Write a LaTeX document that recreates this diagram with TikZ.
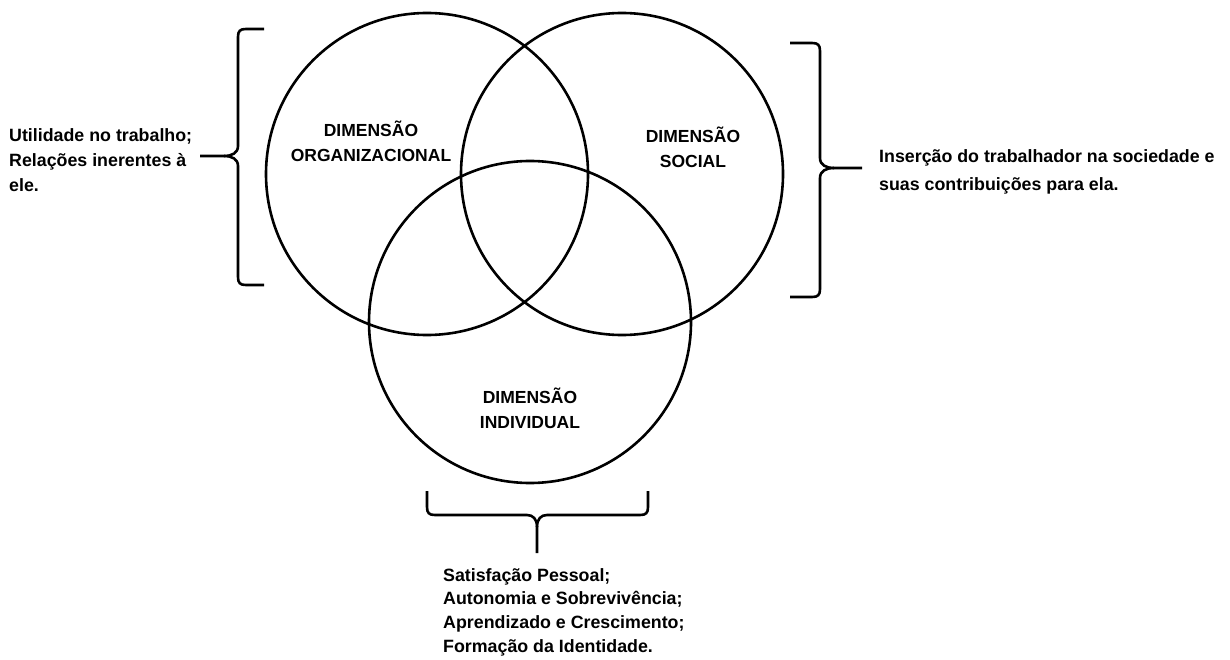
\documentclass[tikz,border=0pt]{standalone}
\usepackage{fontspec}
\setmainfont{Liberation Sans}
\begin{document}
\begin{tikzpicture}[x=1pt,y=-1pt,
  ring/.style={circle,draw,line width=2.6pt,minimum size=322pt,inner sep=0pt},
  bracket/.style={line width=2.6pt,line join=round},
  lab/.style={inner sep=0pt,font=\fontsize{17.5}{25}\selectfont\bfseries,align=center},
  note/.style={inner sep=0pt,font=\fontsize{17.8}{25}\selectfont\bfseries,align=left,anchor=west}]
\useasboundingbox (0,0) rectangle (1230,660);
% circles
\node[ring] (org) at (427,174) {};
\node[ring] (soc) at (622,174) {};
\node[ring] (ind) at (530,322) {};
% circle labels
\node[lab] (lorg) at (371,141) {DIMENSÃO\\ORGANIZACIONAL};
\node[lab] (lsoc) at (693,147) {DIMENSÃO\\SOCIAL};
\node[lab] (lind) at (530,408) {DIMENSÃO\\INDIVIDUAL};
% side texts
\node[note] (tleft) at (9,160) {Utilidade no trabalho;\\Relações inerentes à\\ele.};
\node[note,font=\fontsize{17.8}{28}\selectfont\bfseries] (tright) at (879,172) {Inserção do trabalhador na sociedade e\\suas contribuições para ela.};
\node[note,font=\fontsize{17.8}{23.7}\selectfont\bfseries] (tbot) at (443,612) {Satisfação Pessoal;\\Autonomia e Sobrevivência;\\Aprendizado e Crescimento;\\Formação da Identidade.};
% coordinates for brace tips
\coordinate (lt) at (200,156);
\coordinate (rt) at (862,168);
\coordinate (bt) at (537,553);
% left brace
\draw[bracket] (264,29) -- (246,29) .. controls (240,29) and (238,31) .. (238,37)
  -- (238,146) .. controls (238,153) and (232,156) .. (224,156) -- (lt);
\draw[bracket] (224,156) .. controls (232,156) and (238,159) .. (238,166)
  -- (238,277) .. controls (238,283) and (240,285) .. (246,285) -- (264,285);
% right brace
\draw[bracket] (790,43) -- (812,43) .. controls (818,43) and (820,45) .. (820,51)
  -- (820,158) .. controls (820,165) and (826,168) .. (834,168) -- (rt);
\draw[bracket] (834,168) .. controls (826,168) and (820,171) .. (820,178)
  -- (820,289) .. controls (820,295) and (818,297) .. (812,297) -- (790,297);
% bottom brace
\draw[bracket] (427,491) -- (427,507) .. controls (427,513) and (429,515) .. (435,515)
  -- (527,515) .. controls (533,515) and (537,519) .. (537,527) -- (bt);
\draw[bracket] (537,527) .. controls (537,519) and (541,515) .. (547,515)
  -- (640,515) .. controls (646,515) and (648,513) .. (648,507) -- (648,491);
\end{tikzpicture}
\end{document}
